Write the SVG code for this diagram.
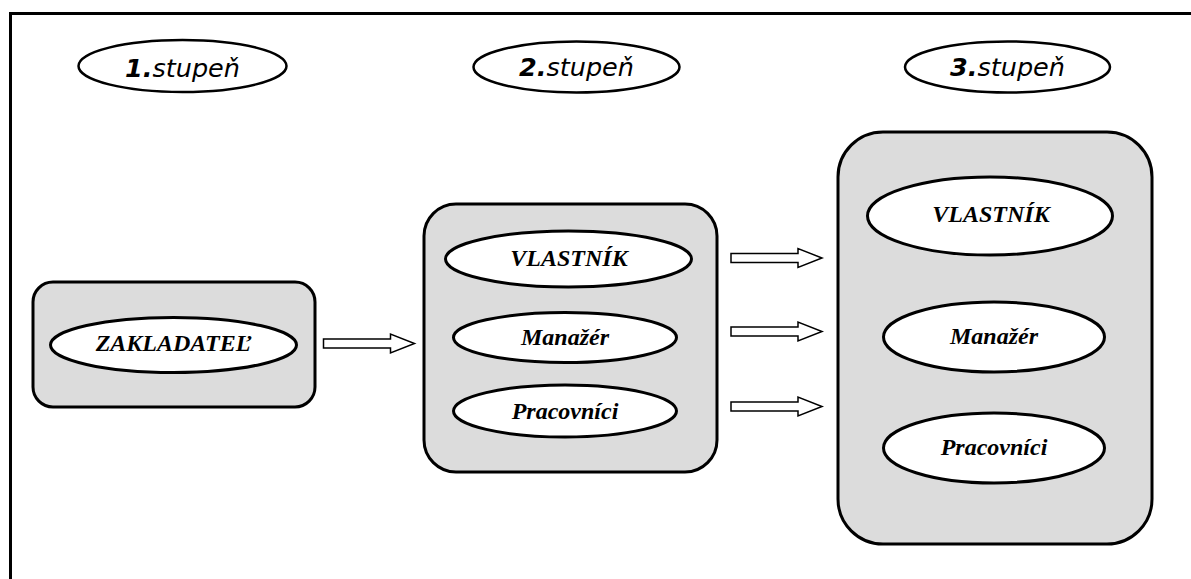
<svg xmlns="http://www.w3.org/2000/svg" xmlns:xlink="http://www.w3.org/1999/xlink" width="1191" height="579" viewBox="0 0 1191 579">
  <style>
    .frame { fill: none; stroke: #000; stroke-width: 3; }
    .stage { fill: #fff; stroke: #000; stroke-width: 2.5; }
    .stage-num { font-family: "DejaVu Sans", Verdana, sans-serif; font-size: 25.5px; font-style: italic; font-weight: bold; }
    .stage-word { font-weight: normal; }
    .box { fill: #dcdcdc; stroke: #000; stroke-width: 3; }
    .role { fill: #fff; stroke: #000; stroke-width: 3; }
    .role-text { font-family: "Liberation Serif", "Times New Roman", serif; font-size: 24px; font-style: italic; font-weight: bold; text-anchor: middle; }
    .arrow { fill: #fff; stroke: #000; stroke-width: 1.5; stroke-linejoin: miter; }
  </style>
  <defs>
    <!-- hollow block arrow, origin at the tail centre -->
    <path id="blockArrow" d="M0,-4.5 H67 V-9.5 L91,0 L67,9.5 V4.5 H0 Z"/>
  </defs>

  <rect width="1191" height="579" fill="#fff"/>
  <rect class="frame" x="10.5" y="13.5" width="1200" height="600"/>

  <!-- stage headings -->
  <g id="stage1">
    <ellipse class="stage" cx="182.5" cy="66" rx="104" ry="26"/>
    <text class="stage-num" x="182.5" y="77" text-anchor="middle">1.<tspan class="stage-word">stupeň</tspan></text>
  </g>
  <g id="stage2">
    <ellipse class="stage" cx="576.5" cy="67" rx="103" ry="25.5"/>
    <text class="stage-num" x="576.5" y="76" text-anchor="middle">2.<tspan class="stage-word">stupeň</tspan></text>
  </g>
  <g id="stage3">
    <ellipse class="stage" cx="1007.5" cy="67" rx="102.5" ry="25.5"/>
    <text class="stage-num" x="1007.5" y="76" text-anchor="middle">3.<tspan class="stage-word">stupeň</tspan></text>
  </g>

  <!-- stage 1: founder -->
  <g id="founder">
    <rect class="box" x="33" y="282" width="282" height="125" rx="20" ry="20"/>
    <ellipse class="role" cx="173.5" cy="345" rx="123" ry="27.5"/>
    <text class="role-text" x="173" y="351">ZAKLADATEĽ</text>
  </g>

  <!-- stage 2: owner, manager, workers -->
  <g id="firm2">
    <rect class="box" x="424" y="204" width="293" height="268" rx="32" ry="32"/>
    <g id="owner2">
      <ellipse class="role" cx="568.5" cy="259" rx="123" ry="28"/>
      <text class="role-text" x="569" y="266">VLASTNÍK</text>
    </g>
    <g id="manager2">
      <ellipse class="role" cx="565" cy="337.5" rx="111.5" ry="25"/>
      <text class="role-text" x="565" y="345">Manažér</text>
    </g>
    <g id="workers2">
      <ellipse class="role" cx="565" cy="411" rx="111.5" ry="26"/>
      <text class="role-text" x="565" y="419">Pracovníci</text>
    </g>
  </g>

  <!-- stage 3: owner, manager, workers -->
  <g id="firm3">
    <rect class="box" x="838" y="132" width="314" height="412" rx="45" ry="45"/>
    <g id="owner3">
      <ellipse class="role" cx="990" cy="216" rx="122.5" ry="39"/>
      <text class="role-text" x="991" y="222">VLASTNÍK</text>
    </g>
    <g id="manager3">
      <ellipse class="role" cx="994" cy="337" rx="110.5" ry="35"/>
      <text class="role-text" x="994" y="344">Manažér</text>
    </g>
    <g id="workers3">
      <ellipse class="role" cx="994" cy="448" rx="110.5" ry="35"/>
      <text class="role-text" x="994" y="455">Pracovníci</text>
    </g>
  </g>

  <!-- connectors -->
  <g id="connectors">
    <use xlink:href="#blockArrow" href="#blockArrow" class="arrow" transform="translate(323.5,343.5)"/>
    <use xlink:href="#blockArrow" href="#blockArrow" class="arrow" transform="translate(731,258)"/>
    <use xlink:href="#blockArrow" href="#blockArrow" class="arrow" transform="translate(731,331.5)"/>
    <use xlink:href="#blockArrow" href="#blockArrow" class="arrow" transform="translate(731,406.5)"/>
  </g>
</svg>
